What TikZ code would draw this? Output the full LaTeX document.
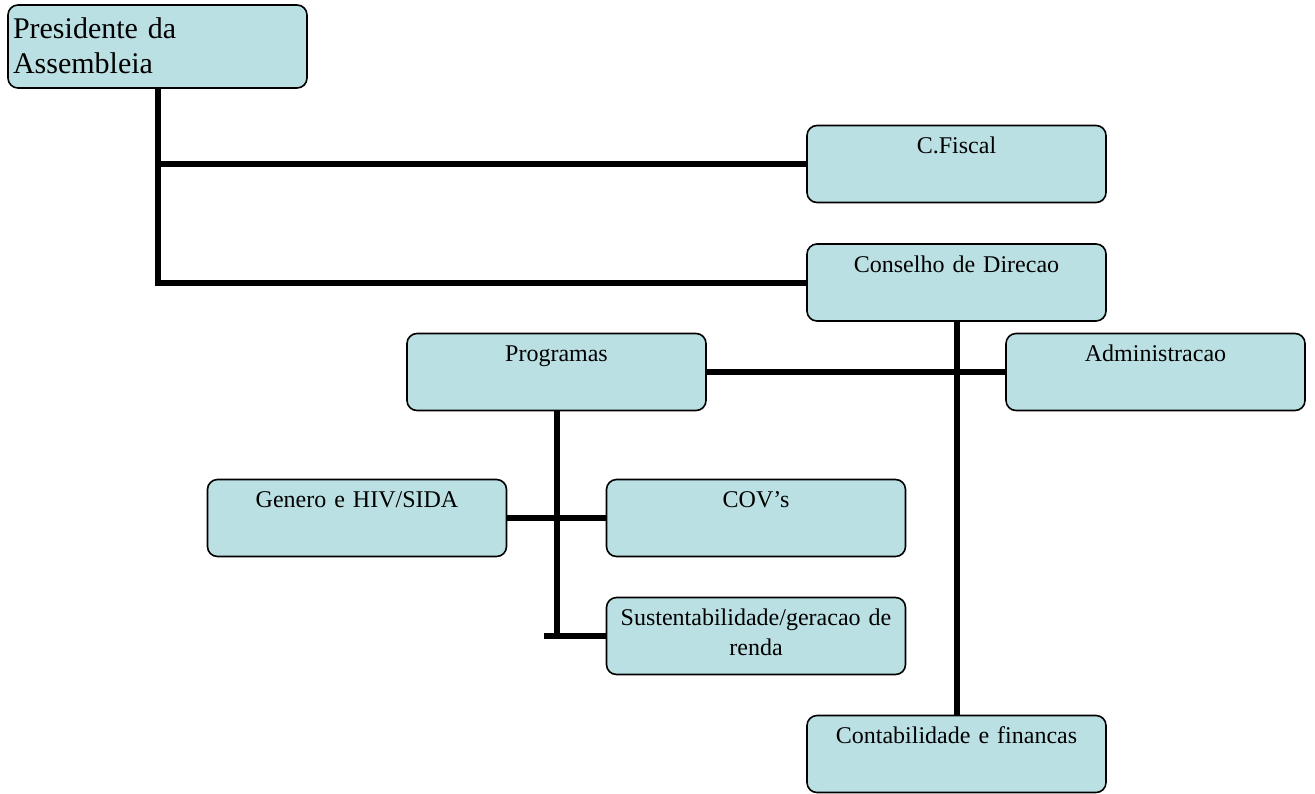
\documentclass[tikz,border=0pt]{standalone}
\usepackage{fontspec}
\setmainfont{Liberation Serif}
\usetikzlibrary{positioning}

\definecolor{boxfill}{HTML}{BBE0E3}

\tikzset{
  orgbox/.style={draw, line width=0.8pt, rounded corners=5pt, fill=boxfill,
    inner xsep=3pt, inner ysep=0pt, text width=143.5pt, align=center,
    text height=14pt, text depth=24.5pt,
    font=\fontsize{12}{15}\selectfont},
  topbox/.style={orgbox, inner xsep=2.5pt, text width=144.5pt, align=left,
    text height=16.5pt, text depth=25pt,
    font=\fontsize{15}{17.5}\selectfont},
  link/.style={line width=3pt}
}

\begin{document}
\begin{tikzpicture}
	[x=0.5pt, y=-0.5pt, on grid]
   \useasboundingbox (0,0) rectangle (1315,793);
   \node[topbox] (pres) at (157.5,46.5) {Presidente da\\Assembleia};
   \node[orgbox] (fiscal) at (956.5,164) {C.Fiscal};
   \node[orgbox] (conselho) [below=59.25pt of fiscal] {Conselho de Direcao};
   \node[orgbox] (admin) [below right=44.75pt and 99.5pt of conselho] {Administracao};
   \node[orgbox] (programas) [left=299.5pt of admin] {Programas};
   \node[orgbox] (covs) [below right=73pt and 99.75pt of programas] {COV's};
   \node[orgbox] (genero) [left=199.5pt of covs] {Genero e HIV/SIDA};
   \node[orgbox] (sust) [below=59pt of covs] {Sustentabilidade/geracao de\\renda};
   \node[orgbox] (contab) [below=235.75pt of conselho] {Contabilidade e financas};
   \coordinate[left=106pt of sust] (stub);

   % connectors
   \draw[link] (pres) |- (fiscal);
   \draw[link] (pres) |- (conselho);
   \draw[link] (conselho) -- (contab);
   \draw[link] (programas) -- (admin);
   \draw[link] (genero) -- (covs);
   \draw[link] (programas) |- (sust);
   \draw[link] (stub) -- (sust);
\end{tikzpicture}
\end{document}
